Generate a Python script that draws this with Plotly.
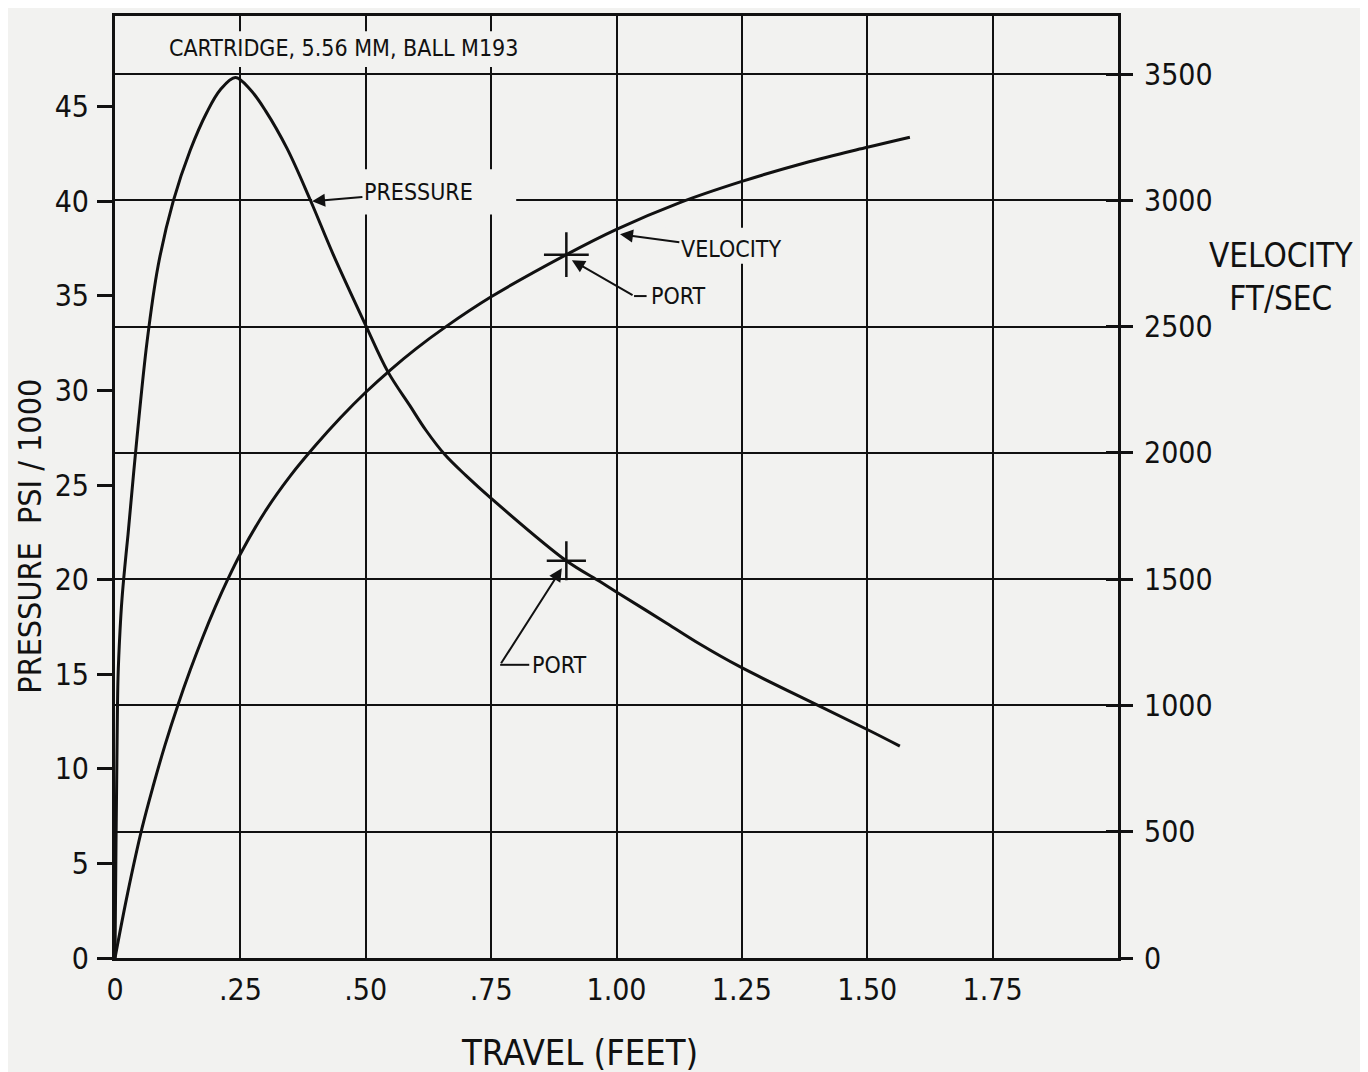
import plotly.graph_objects as go

# ---------------- data ----------------
travel_pressure = [0.0, 0.002, 0.004, 0.006, 0.010, 0.014, 0.020, 0.026, 0.042, 0.064,
                   0.086, 0.116, 0.15, 0.183, 0.21, 0.24, 0.27, 0.30, 0.343, 0.389,
                   0.435, 0.499, 0.544, 0.588, 0.62, 0.658, 0.70, 0.75, 0.90, 0.967,
                   1.003, 1.10, 1.166, 1.246, 1.406, 1.506, 1.565]
pressure_k = [0.0, 6.0, 11.0, 14.8, 17.3, 19.0, 20.8, 22.4, 27.0, 32.6,
              36.6, 40.0, 42.7, 44.7, 45.9, 46.55, 45.9, 44.8, 42.8, 40.1,
              37.2, 33.5, 31.0, 29.2, 27.9, 26.6, 25.5, 24.3, 21.0, 19.9,
              19.3, 17.7, 16.6, 15.4, 13.3, 12.0, 11.2]

travel_velocity = [0.0, 0.025, 0.054, 0.076, 0.10, 0.126, 0.15, 0.175, 0.20, 0.225,
                   0.25, 0.30, 0.35, 0.40, 0.45, 0.50, 0.55, 0.60, 0.66, 0.75,
                   0.90, 1.00, 1.125, 1.25, 1.375, 1.50, 1.585]
velocity_fps = [0, 255, 515, 680, 845, 1005, 1140, 1270, 1390, 1500,
                1600, 1770, 1910, 2030, 2140, 2240, 2330, 2412, 2500, 2618,
                2785, 2885, 2990, 3075, 3148, 3210, 3250]

port_travel = [0.90]
port_pressure = [21.0]
port_velocity = [2785]

x_tickvals = [0, 0.25, 0.50, 0.75, 1.00, 1.25, 1.50, 1.75]
x_ticktext = ["0", ".25", ".50", ".75", "1.00", "1.25", "1.50", "1.75"]
pressure_ticks = [0, 5, 10, 15, 20, 25, 30, 35, 40, 45]
velocity_ticks = [0, 500, 1000, 1500, 2000, 2500, 3000, 3500]

BG = "#f2f2f0"
INK = "#111111"
FONT = "DejaVu Sans Condensed, Liberation Sans Narrow, sans-serif"

fig = go.Figure()

fig.add_trace(go.Scatter(x=travel_pressure, y=pressure_k, mode="lines",
                         line=dict(color=INK, width=3, shape="spline", smoothing=1.0),
                         yaxis="y", showlegend=False, hoverinfo="skip"))
fig.add_trace(go.Scatter(x=travel_velocity, y=velocity_fps, mode="lines",
                         line=dict(color=INK, width=3, shape="spline", smoothing=1.0),
                         yaxis="y2", showlegend=False, hoverinfo="skip"))
fig.add_trace(go.Scatter(x=port_travel, y=port_pressure, mode="markers",
                         marker=dict(symbol="cross-thin", size=28, color=INK,
                                     line=dict(color=INK, width=2.5)),
                         yaxis="y", showlegend=False, hoverinfo="skip"))
fig.add_trace(go.Scatter(x=port_travel, y=port_velocity, mode="markers",
                         marker=dict(symbol="cross-thin", size=32, color=INK,
                                     line=dict(color=INK, width=2.5)),
                         yaxis="y2", showlegend=False, hoverinfo="skip"))
# invisible helper trace so the inner-tick axis is drawn
fig.add_trace(go.Scatter(x=port_travel, y=port_velocity, mode="markers",
                         marker=dict(opacity=0), yaxis="y3",
                         showlegend=False, hoverinfo="skip"))

tickfont = dict(family=FONT, size=30, color=INK)

fig.update_layout(
    width=1360, height=1064,
    margin=dict(l=107, r=250, t=5, b=114),
    paper_bgcolor=BG, plot_bgcolor=BG,
    font=dict(family=FONT, color=INK),
    xaxis=dict(range=[0, 2.0], tickvals=x_tickvals, ticktext=x_ticktext,
               showgrid=True, gridcolor=INK, gridwidth=2,
               showline=True, linecolor=INK, linewidth=3, mirror=True,
               ticks="", zeroline=False, tickfont=tickfont,
               ticklabelstandoff=3, fixedrange=True),
    yaxis=dict(range=[0, 49.8], tickvals=pressure_ticks,
               ticks="outside", ticklen=15, tickwidth=2.5, tickcolor=INK,
               showgrid=False, showline=True, linecolor=INK, linewidth=3,
               mirror=True, zeroline=False, tickfont=tickfont,
               ticklabelstandoff=2),
    yaxis2=dict(range=[0, 3730], tickvals=velocity_ticks, overlaying="y",
                side="right", ticks="outside", ticklen=12, tickwidth=2.5,
                tickcolor=INK, showgrid=True, gridcolor=INK, gridwidth=2,
                showline=True, linecolor=INK, linewidth=3, zeroline=False,
                tickfont=tickfont, ticklabelstandoff=5),
    yaxis3=dict(range=[0, 3730], tickvals=velocity_ticks, overlaying="y",
                side="right", anchor="x", ticks="inside", ticklen=12,
                tickwidth=2.5, tickcolor=INK, showticklabels=False,
                showgrid=False, showline=False, zeroline=False),
)

# masks (gaps in the grid around lettering), all on the primary subplot
masks = [
    dict(x0=0.10, x1=0.80, y0=47.1, y1=49.0),   # header title
    dict(x0=0.393, x1=0.80, y0=39.3, y1=41.7),  # PRESSURE
    dict(x0=1.097, x1=1.356, y0=36.7, y1=38.6), # VELOCITY
]
for m in masks:
    fig.add_shape(type="rect", xref="x", yref="y", x0=m["x0"], x1=m["x1"],
                  y0=m["y0"], y1=m["y1"], fillcolor=BG, line=dict(width=0),
                  layer="between")

lab = dict(family=FONT, size=23, color=INK)

# header
fig.add_annotation(x=0.455, y=3604, xref="x", yref="y2", xanchor="center", yanchor="middle",
                   text="CARTRIDGE, 5.56 MM, BALL M193", showarrow=False, font=lab)

# PRESSURE label with arrow
fig.add_annotation(x=0.393, y=40.0, xref="x", yref="y", axref="x", ayref="y",
                   ax=0.605, ay=40.5, text="PRESSURE", font=lab, showarrow=True,
                   xanchor="center", yanchor="middle",
                   arrowhead=2, arrowsize=1.3, arrowwidth=2, arrowcolor=INK)

# VELOCITY label with arrow
fig.add_annotation(x=1.007, y=2866, xref="x", yref="y2", axref="x", ayref="y2",
                   ax=1.228, ay=2806, text="VELOCITY", font=lab, showarrow=True,
                   xanchor="center", yanchor="middle",
                   arrowhead=2, arrowsize=1.3, arrowwidth=2, arrowcolor=INK)

# PORT (velocity)
fig.add_annotation(x=0.911, y=2763, xref="x", yref="y2", axref="x", ayref="y2",
                   ax=1.035, ay=2621, text="", showarrow=True,
                   arrowhead=2, arrowsize=1.3, arrowwidth=2, arrowcolor=INK)
fig.add_shape(type="line", xref="x", yref="y2", x0=1.035, x1=1.060, y0=2621, y1=2621,
              line=dict(color=INK, width=2))
fig.add_annotation(x=1.064, y=2621, xref="x", yref="y2", text="PORT", font=lab,
                   showarrow=False, xanchor="left", yanchor="middle")

# PORT (pressure)
fig.add_annotation(x=0.891, y=20.6, xref="x", yref="y", axref="x", ayref="y",
                   ax=0.768, ay=15.5, text="", showarrow=True,
                   arrowhead=2, arrowsize=1.3, arrowwidth=2, arrowcolor=INK)
fig.add_shape(type="line", xref="x", yref="y", x0=0.768, x1=0.826, y0=15.5, y1=15.5,
              line=dict(color=INK, width=2))
fig.add_annotation(x=0.828, y=15.5, xref="x", yref="y", text="PORT", font=lab,
                   showarrow=False, xanchor="left", yanchor="middle")

# axis titles
title_font = dict(family=FONT, size=32, color=INK)
fig.add_annotation(x=-0.085, y=0.448, xref="paper", yref="paper",
                   xanchor="center", yanchor="middle",
                   text="PRESSURE\u00a0\u00a0PSI / 1000", textangle=-90,
                   showarrow=False, font=title_font)
fig.add_annotation(x=1.1625, y=0.723, xref="paper", yref="paper",
                   xanchor="center", yanchor="middle",
                   text="VELOCITY<br>FT/SEC", showarrow=False,
                   font=dict(family=FONT, size=33, color=INK))
fig.add_annotation(x=0.4636, y=-0.1005, xref="paper", yref="paper",
                   xanchor="center", yanchor="middle",
                   text="TRAVEL (FEET)", showarrow=False,
                   font=dict(family=FONT, size=36, color=INK))

fig.write_html("out.html")
